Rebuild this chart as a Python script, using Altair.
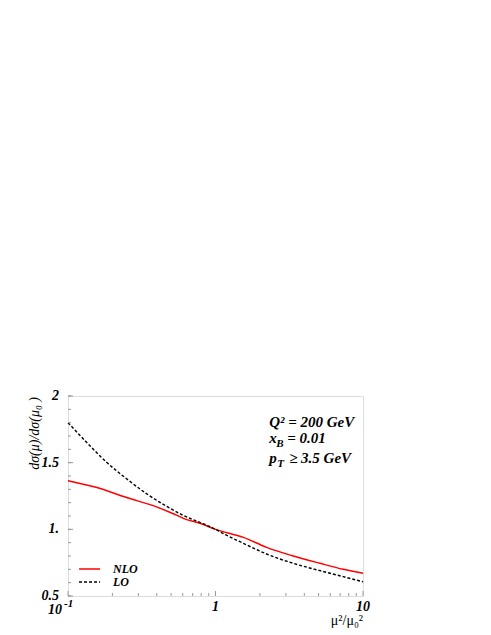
import altair as alt
import pandas as pd

# --- data ---
x_nlo = [0.1, 0.155, 0.247, 0.395, 0.54, 0.631, 0.785, 1.0, 1.545, 2.22, 3.37, 5.11, 7.35, 10]
y_nlo = [1.365, 1.315, 1.240, 1.170, 1.108, 1.075, 1.045, 1.0, 0.940, 0.865, 0.80, 0.745, 0.70, 0.67]

x_lo = [0.1, 0.1325, 0.181, 0.247, 0.338, 0.462, 0.631, 0.863, 1.0, 1.07, 1.545, 2.22, 3.37, 5.11, 7.35, 10]
y_lo = [1.80, 1.657, 1.507, 1.383, 1.270, 1.175, 1.095, 1.033, 1.0, 0.982, 0.895, 0.815, 0.745, 0.69, 0.645, 0.607]

y_minor_ticks = [0.5, 0.6, 0.7, 0.8, 0.9, 1.0, 1.1, 1.2, 1.3, 1.4, 1.5, 1.6, 1.7, 1.8, 1.9, 2.0]
y_major_ticks = [0.5, 1.0, 1.5, 2.0]
y_tick_labels = ["0.5", "1.", "1.5", "2"]
x_minor_ticks = [0.2, 0.3, 0.4, 0.5, 0.6, 0.7, 0.8, 0.9, 2, 3, 4, 5, 6, 7, 8, 9]
x_major_ticks = [0.1, 1, 10]
x_tick_labels = ["10", "1", "10"]

legend_names = ["NLO", "LO"]
legend_y = [0.7025, 0.605]
legend_x0, legend_x1, legend_xt = 0.1188, 0.165, 0.2018

ann_x = 2.31
ann_main = ["Q² = 200 GeV", "x", "p"]
ann_y = [1.77, 1.645, 1.498]

W, H = 295, 200
FONT = "Liberation Serif"

xs = alt.Scale(type="log", domain=[0.1, 10])
ys = alt.Scale(domain=[0.5, 2])
X = lambda f: alt.X(f, type="quantitative", scale=xs, axis=None)
Y = lambda f: alt.Y(f, type="quantitative", scale=ys, axis=None)

nlo = pd.DataFrame({"x": x_nlo, "y": y_nlo})
lo = pd.DataFrame({"x": x_lo, "y": y_lo})

nlo_line = alt.Chart(nlo).mark_line(color="red", strokeWidth=1.5, interpolate="monotone").encode(
    x=X("x"), y=Y("y"))
lo_line = alt.Chart(lo).mark_line(color="black", strokeWidth=1.4, strokeDash=[3, 2],
                                  interpolate="monotone").encode(x=X("x"), y=Y("y"))

tick_col = "#999999"
ytm = alt.Chart(pd.DataFrame({"v": y_minor_ticks})).mark_rule(color=tick_col, strokeWidth=1).encode(
    y=Y("v"), x=alt.value(0), x2=alt.value(3))
ytM = alt.Chart(pd.DataFrame({"v": y_major_ticks})).mark_rule(color=tick_col, strokeWidth=1).encode(
    y=Y("v"), x=alt.value(0), x2=alt.value(5))
xtm = alt.Chart(pd.DataFrame({"v": x_minor_ticks})).mark_rule(color=tick_col, strokeWidth=1).encode(
    x=X("v"), y=alt.value(H), y2=alt.value(H - 3))
xtM = alt.Chart(pd.DataFrame({"v": x_major_ticks})).mark_rule(color=tick_col, strokeWidth=1).encode(
    x=X("v"), y=alt.value(H), y2=alt.value(H - 5))

lab_style = dict(font=FONT, fontSize=14, fontWeight="bold", fontStyle="italic", color="black")
ylab = alt.Chart(pd.DataFrame({"v": y_major_ticks, "t": y_tick_labels})).mark_text(
    align="right", baseline="middle", **lab_style).encode(
    y=Y("v"), x=alt.value(-9), text="t:N")
xlab_df = pd.DataFrame({"v": x_major_ticks, "t": x_tick_labels})
xlab = alt.Chart(xlab_df).transform_filter("datum.v > 0.5").mark_text(
    align="center", baseline="alphabetic", **lab_style).encode(
    x=X("v"), y=alt.value(H + 15), text="t:N")
xlab_m1 = alt.Chart(xlab_df).transform_filter("datum.v < 0.5").mark_text(
    align="right", dx=-6, baseline="alphabetic", **lab_style).encode(
    x=X("v"), y=alt.value(H + 18), text="t:N")
xlab_sup = alt.Chart(pd.DataFrame({"v": [0.1], "t": ["-1"]})).mark_text(
    align="left", dx=-4, font=FONT, fontSize=11, fontWeight="bold", fontStyle="italic",
    color="black", baseline="alphabetic").encode(x=X("v"), y=alt.value(H + 11), text="t:N")

xtitle = alt.Chart(pd.DataFrame({"t": ["μ²/μ₀²"]})).mark_text(
    align="right", baseline="alphabetic", font=FONT, fontSize=14, color="black").encode(
    x=alt.value(W), y=alt.value(H + 29), text="t:N")
ytitle = alt.Chart(pd.DataFrame({"t": ["dσ(μ)/dσ(μ₀ )"]})).mark_text(
    align="right", baseline="middle", angle=270, font=FONT, fontSize=14, fontStyle="italic",
    color="black").encode(x=alt.value(-33), y=alt.value(1), text="t:N")

ann_style = dict(font=FONT, fontWeight="bold", fontStyle="italic", color="black",
                 baseline="alphabetic", align="left")
ann_df = pd.DataFrame({"x": [ann_x] * 3, "y": ann_y, "t": ann_main})
ann = alt.Chart(ann_df).mark_text(fontSize=15, **ann_style).encode(x=X("x"), y=Y("y"), text="t:N")
sub_df = pd.DataFrame({"x": [ann_x] * 2, "y": ann_y[1:], "t": ["B", "T"]})
subs_B = alt.Chart(sub_df.iloc[[0]]).mark_text(fontSize=11, dx=7, dy=4, **ann_style).encode(
    x=X("x"), y=Y("y"), text="t:N")
subs_T = alt.Chart(sub_df.iloc[[1]]).mark_text(fontSize=11, dx=8, dy=4, **ann_style).encode(
    x=X("x"), y=Y("y"), text="t:N")
rest_B = alt.Chart(pd.DataFrame({"x": [ann_x], "y": [ann_y[1]], "t": ["= 0.01"]})).mark_text(
    fontSize=15, dx=18, **ann_style).encode(x=X("x"), y=Y("y"), text="t:N")
rest_T = alt.Chart(pd.DataFrame({"x": [ann_x], "y": [ann_y[2]], "t": ["≥ 3.5 GeV"]})).mark_text(
    fontSize=15, dx=20, **ann_style).encode(x=X("x"), y=Y("y"), text="t:N")

leg_df = pd.DataFrame({"n": legend_names, "y": legend_y, "x0": [legend_x0] * 2,
                       "x1": [legend_x1] * 2, "xt": [legend_xt] * 2})
leg_nlo = alt.Chart(leg_df.iloc[[0]]).mark_rule(color="red", strokeWidth=1.5).encode(
    x=X("x0"), x2="x1", y=Y("y"))
leg_lo = alt.Chart(leg_df.iloc[[1]]).mark_rule(color="black", strokeWidth=1.4, strokeDash=[3, 2]).encode(
    x=X("x0"), x2="x1", y=Y("y"))
leg_txt = alt.Chart(leg_df).mark_text(font=FONT, fontSize=12, fontWeight="bold", fontStyle="italic",
                                      color="black", align="left", baseline="middle").encode(
    x=X("xt"), y=Y("y"), text="n:N")

chart = alt.layer(
    nlo_line, lo_line, ytm, ytM, xtm, xtM, ylab, xlab, xlab_m1, xlab_sup, xtitle, ytitle,
    ann, subs_B, subs_T, rest_B, rest_T, leg_nlo, leg_lo, leg_txt
).properties(
    width=W, height=H,
    autosize=alt.AutoSizeParams(type="none"),
    padding={"left": 60, "top": 388, "right": 110, "bottom": 36},
).configure_view(stroke="#888888", strokeWidth=1).configure(background="white")

chart.save("out.html", embed_options={"renderer": "svg", "actions": False})
